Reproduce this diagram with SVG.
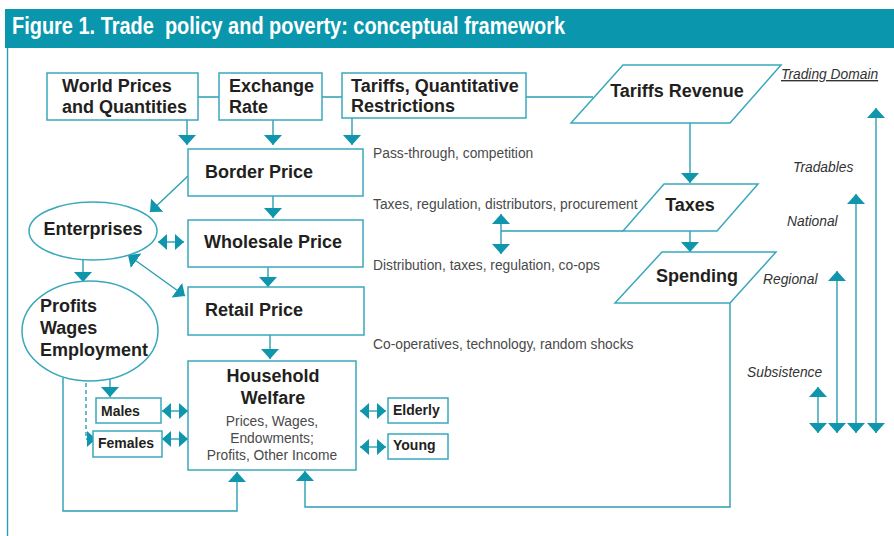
<svg xmlns="http://www.w3.org/2000/svg" width="894" height="536" viewBox="0 0 894 536">
<style>
.box{fill:#fff;stroke:#3aa8bc;stroke-width:1.5}
.ln{fill:none;stroke:#2a9fb4;stroke-width:1.4}
.b{font-family:"Liberation Sans",Arial,sans-serif;font-weight:bold;font-size:18px;fill:#231f20}
.bs{font-family:"Liberation Sans",Arial,sans-serif;font-weight:bold;font-size:14px;fill:#231f20}
.g{font-family:"Liberation Sans",Arial,sans-serif;font-size:13.8px;fill:#4a4a4a}
.it{font-family:"Liberation Sans",Arial,sans-serif;font-style:italic;font-size:13.8px;fill:#333}
.m{text-anchor:middle}
</style>
<defs>
<marker id="ah" markerUnits="userSpaceOnUse" viewBox="0 0 10 18" refX="10" refY="9" markerWidth="10" markerHeight="18" orient="auto-start-reverse"><path d="M0,0 L10,9 L0,18 z" fill="#0f95ac"/></marker>
<marker id="as" markerUnits="userSpaceOnUse" viewBox="0 0 9 16" refX="9" refY="8" markerWidth="9" markerHeight="16" orient="auto-start-reverse"><path d="M0,0 L9,8 L0,16 z" fill="#0f95ac"/></marker>
</defs>
<rect x="5" y="9" width="889" height="39" fill="#0a97ae"/>
<text x="12" y="34" xml:space="preserve" font-family="'Liberation Sans',Arial,sans-serif" font-weight="bold" font-size="24" fill="#fff" textLength="553" lengthAdjust="spacingAndGlyphs">Figure 1. Trade  policy and poverty: conceptual framework</text>
<line x1="7.5" y1="48" x2="7.5" y2="536" stroke="#2a9fb4" stroke-width="1.4"/>

<g id="connectors">
<path class="ln" d="M198,97 H219 M322,97 H342 M526,97 H593"/>
<path class="ln" d="M187,120 V145" marker-end="url(#ah)"/>
<path class="ln" d="M273,120 V145" marker-end="url(#ah)"/>
<path class="ln" d="M352,118 V145" marker-end="url(#ah)"/>
<path class="ln" d="M273,196 V218" marker-end="url(#ah)"/>
<path class="ln" d="M268,267 V287" marker-end="url(#ah)"/>
<path class="ln" d="M270,335 V359" marker-end="url(#ah)"/>
<path class="ln" d="M188,176 L150,212" marker-end="url(#ah)"/>
<path class="ln" d="M158,242 H184" marker-start="url(#as)" marker-end="url(#as)"/>
<path class="ln" d="M128,255 L185,296" marker-start="url(#ah)" marker-end="url(#ah)"/>
<path class="ln" d="M83,260 V282" marker-end="url(#ah)"/>
<path class="ln" d="M110,378 V397" marker-end="url(#ah)"/>
<path class="ln" d="M86,383 V439 H96" stroke-dasharray="4,3" marker-end="url(#as)"/>
<path class="ln" d="M162,411 H188" marker-start="url(#as)" marker-end="url(#as)"/>
<path class="ln" d="M162,439 H188" marker-start="url(#as)" marker-end="url(#as)"/>
<path class="ln" d="M360,411 H386" marker-start="url(#as)" marker-end="url(#as)"/>
<path class="ln" d="M360,447 H386" marker-start="url(#as)" marker-end="url(#as)"/>
<path class="ln" d="M63,378 V511 H237 V472" marker-end="url(#ah)"/>
<path class="ln" d="M730,303 V507 H305 V471" marker-end="url(#ah)"/>
<path class="ln" d="M690,123 V183" marker-end="url(#ah)"/>
<path class="ln" d="M690,231 V252" marker-end="url(#ah)"/>
<path class="ln" d="M623,231 H501"/>
<path class="ln" d="M501,214 V254" marker-start="url(#ah)" marker-end="url(#ah)"/>
<path class="ln" d="M818,387 V433" marker-start="url(#ah)" marker-end="url(#ah)"/>
<path class="ln" d="M837,271 V433" marker-start="url(#ah)" marker-end="url(#ah)"/>
<path class="ln" d="M856,194 V433" marker-start="url(#ah)" marker-end="url(#ah)"/>
<path class="ln" d="M876,108 V433" marker-start="url(#ah)" marker-end="url(#ah)"/>
</g>

<g id="world-prices"><rect class="box" x="47" y="73" width="151" height="47"/><text class="b" x="62" y="92">World Prices</text><text class="b" x="62" y="113">and Quantities</text></g>
<g id="exchange-rate"><rect class="box" x="219" y="73" width="103" height="47"/><text class="b" x="229" y="92">Exchange</text><text class="b" x="229" y="113">Rate</text></g>
<g id="tariffs-qr"><rect class="box" x="342" y="73" width="184" height="45"/><text class="b" x="351" y="92">Tariffs, Quantitative</text><text class="b" x="351" y="112">Restrictions</text></g>
<g id="tariffs-revenue"><polygon class="box" points="623,65 781,65 730,123 571,123"/><text class="b m" x="677" y="97">Tariffs Revenue</text></g>
<g id="taxes"><polygon class="box" points="664,184 758,184 717,231 623,231"/><text class="b m" x="690" y="211">Taxes</text></g>
<g id="spending"><polygon class="box" points="662,252 776,252 730,303 615,303"/><text class="b m" x="697" y="282">Spending</text></g>
<g id="border-price"><rect class="box" x="188" y="149" width="175" height="47"/><text class="b" x="205" y="178">Border Price</text></g>
<g id="wholesale-price"><rect class="box" x="188" y="220" width="175" height="47"/><text class="b" x="204" y="248">Wholesale Price</text></g>
<g id="retail-price"><rect class="box" x="188" y="287" width="176" height="48"/><text class="b" x="205" y="316">Retail Price</text></g>
<g id="enterprises"><ellipse class="box" cx="93" cy="231" rx="64" ry="29"/><text class="b m" x="93" y="235">Enterprises</text></g>
<g id="profits"><ellipse class="box" cx="90" cy="331" rx="68" ry="50"/><text class="b" x="40" y="312">Profits</text><text class="b" x="40" y="334">Wages</text><text class="b" x="40" y="356">Employment</text></g>
<g id="household-welfare"><rect class="box" x="188" y="361" width="168" height="109"/><text class="b m" x="273" y="382">Household</text><text class="b m" x="273" y="404">Welfare</text><text class="g m" x="272" y="426">Prices, Wages,</text><text class="g m" x="272" y="443">Endowments;</text><text class="g m" x="272" y="460">Profits, Other Income</text></g>
<g id="males"><rect class="box" x="96" y="398" width="65" height="25"/><text class="bs" x="101" y="416">Males</text></g>
<g id="females"><rect class="box" x="93" y="431" width="69" height="26"/><text class="bs" x="98" y="448">Females</text></g>
<g id="elderly"><rect class="box" x="388" y="398" width="60" height="25"/><text class="bs" x="393" y="415">Elderly</text></g>
<g id="young"><rect class="box" x="388" y="434" width="60" height="25"/><text class="bs" x="393" y="450">Young</text></g>

<g id="annotations">
<text class="g" x="373" y="158">Pass-through, competition</text>
<text class="g" x="373" y="209">Taxes, regulation, distributors, procurement</text>
<text class="g" x="373" y="270">Distribution, taxes, regulation, co-ops</text>
<text class="g" x="373" y="349">Co-operatives, technology, random shocks</text>
<text class="it" x="781" y="79" text-decoration="underline">Trading Domain</text>
<text class="it" x="793" y="172">Tradables</text>
<text class="it" x="787" y="226">National</text>
<text class="it" x="763" y="284">Regional</text>
<text class="it" x="747" y="377">Subsistence</text>
</g>
</svg>
